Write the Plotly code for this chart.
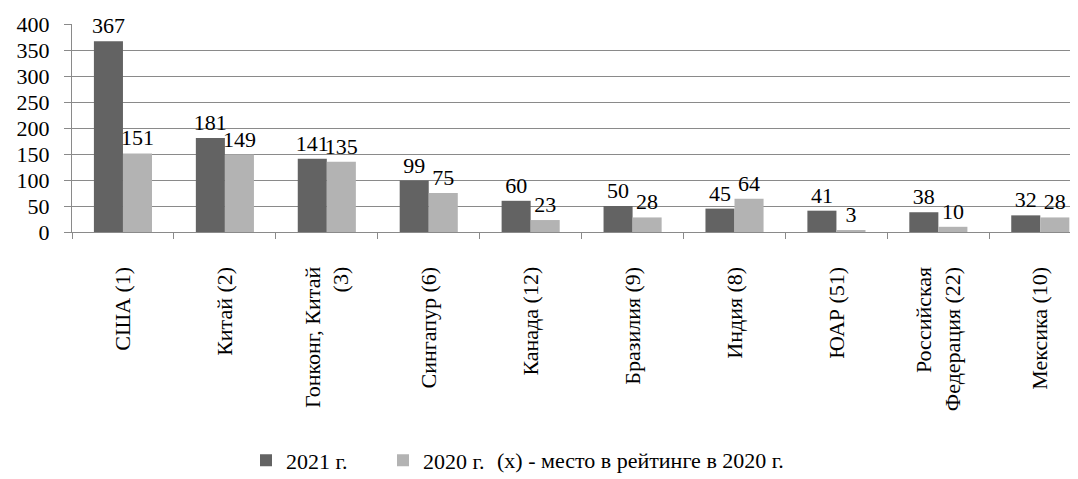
import plotly.graph_objects as go

categories = ["США (1)", "Китай (2)", "Гонконг, Китай<br>(3)", "Сингапур (6)", "Канада (12)",
              "Бразилия (9)", "Индия (8)", "ЮАР (51)", "Российская<br>Федерация (22)", "Мексика (10)"]
values_2021 = [367, 181, 141, 99, 60, 50, 45, 41, 38, 32]
values_2020 = [151, 149, 135, 75, 23, 28, 64, 3, 10, 28]
series_names = ["2021 г.", "2020 г."]
note_text = "(x) - место в рейтинге в 2020 г."
y_ticks = [0, 50, 100, 150, 200, 250, 300, 350, 400]

FONT = "Liberation Serif, Times New Roman, DejaVu Serif, serif"
DARK = "#636363"
LIGHT = "#b3b3b3"
GRID = "#8a8a8a"
FS = 22

# page body has an 8px default margin; plot area wanted at screen x 72..1078, y 24..232.3
L, T = 64, 16
PW, PH = 1006, 208.3
B = 479 - (T + PH)
R = 1078 - L - PW
LEG_Y = 453

fig = go.Figure()
for name, vals, col in [(series_names[0], values_2021, DARK), (series_names[1], values_2020, LIGHT)]:
    fig.add_trace(go.Bar(
        x=categories, y=vals, name=name, marker=dict(color=col, line=dict(width=0)),
        text=[str(v) for v in vals], textposition="outside", cliponaxis=False,
        constraintext="none", textfont=dict(family=FONT, size=FS, color="#000"),
    ))

fig.add_annotation(text=note_text, xref="paper", yref="paper", x=(487 - L) / PW, y=(T + PH - LEG_Y) / PH,
                   xanchor="left", yanchor="middle", showarrow=False,
                   font=dict(family=FONT, size=FS, color="#000"))

fig.update_layout(
    width=1078, height=479,
    margin=dict(l=L, r=R, t=T, b=B, autoexpand=False),
    paper_bgcolor="white", plot_bgcolor="white",
    barmode="group", bargap=0.43, bargroupgap=0,
    font=dict(family=FONT, size=FS, color="#000"),
    showlegend=True,
    legend=dict(orientation="h", x=(238 - L) / PW, y=(T + PH - LEG_Y) / PH,
                xanchor="left", yanchor="middle", font=dict(family=FONT, size=FS, color="#000"),
                entrywidth=92, entrywidthmode="pixels",
                itemclick=False, bgcolor="rgba(0,0,0,0)"),
    xaxis=dict(range=[-0.5, 9.37], showline=True, linecolor=GRID, linewidth=1, automargin=False,
               ticks="outside", ticklen=6, tickcolor=GRID, tickson="boundaries",
               tickangle=-90, showgrid=False, ticklabelstandoff=25,
               tickfont=dict(family=FONT, size=FS, color="#000")),
    yaxis=dict(range=[0, 400], tickvals=y_ticks, showline=True, linecolor=GRID, linewidth=1, automargin=False,
               ticks="outside", ticklen=7, tickcolor=GRID, showgrid=True, gridcolor=GRID, gridwidth=1,
               zeroline=False, tickfont=dict(family=FONT, size=FS, color="#000"), ticklabelstandoff=10),
)

fig.write_html("out.html")
